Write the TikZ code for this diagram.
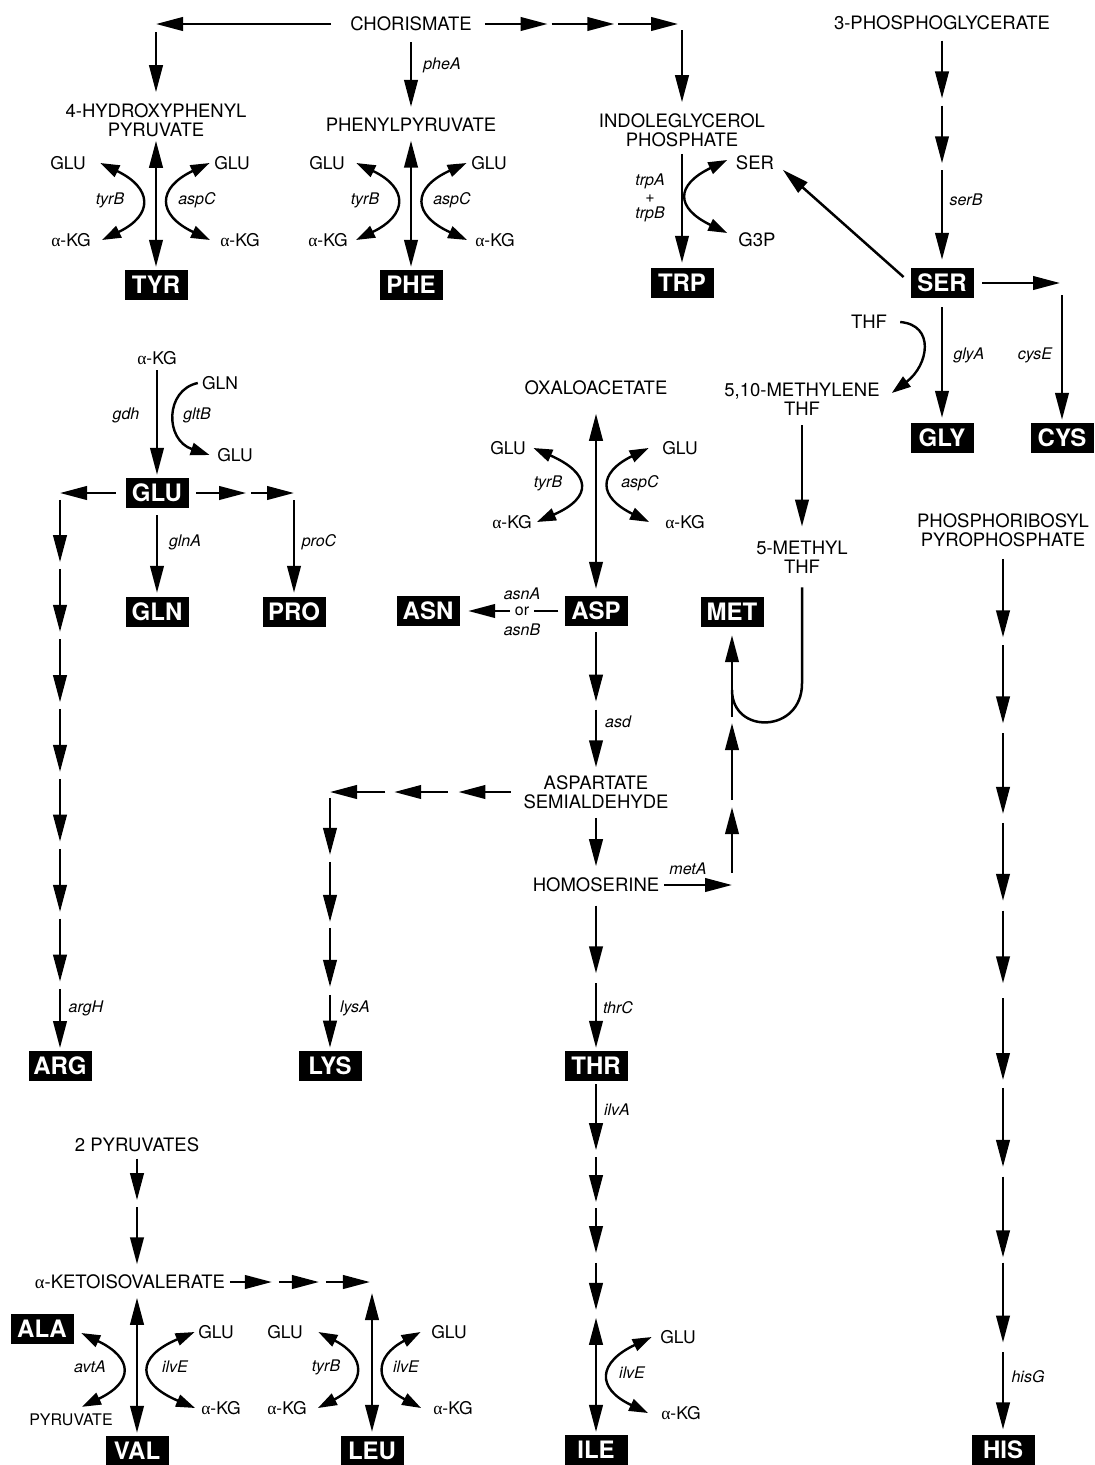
\documentclass[tikz,border=0pt]{standalone}
\usepackage{fontspec}
\setmainfont{TeX Gyre Heros}
\newfontfamily\grk{Liberation Serif}
\usetikzlibrary{arrows.meta,calc}
\newcommand\akg{{\grk α}-KG}
\tikzset{
  metab/.style={font=\fontsize{18.5}{19}\selectfont, inner sep=1pt, align=center},
  cof/.style={font=\fontsize{17.5}{18}\selectfont, inner sep=1pt},
  gene/.style={font=\fontsize{16}{16.5}\selectfont\itshape, inner sep=1pt, align=center},
  aa/.style={fill=black, text=white, font=\fontsize{24}{24}\selectfont\bfseries, minimum width=63pt, minimum height=30pt, inner sep=0pt},
  arr/.style={line width=2.5pt, -{Triangle[length=27pt,width=13.5pt]}},
  darr/.style={line width=2.5pt, {Triangle[length=27pt,width=13.5pt]}-{Triangle[length=27pt,width=13.5pt]}},
  carr/.style={line width=2.4pt, {Triangle[length=19pt,width=12.5pt]}-{Triangle[length=19pt,width=12.5pt]}},
  carrone/.style={line width=2.4pt, -{Triangle[length=19pt,width=12.5pt]}},
  plainline/.style={line width=2.5pt},
}
\newcommand\mychain[3]{\foreach \pa/\pb in {#3}{\draw[arr] ($(#1)!\pa!(#2)$) -- ($(#1)!\pb!(#2)$);}}
\newcommand\myarc[3]{\draw[carr] #1 .. controls +(#3,25) and +(#3,-25) .. #2;}
\begin{document}
\begin{tikzpicture}[x=1pt,y=-1pt]
\fill[white] (0,0) rectangle (1095,1465);
\useasboundingbox (0,0) rectangle (1095,1465);

% ---------- aromatic ----------
\node[metab] (chor) at (411,24) {CHORISMATE};
\node[metab] (hpp) at (156,120) {4-HYDROXYPHENYL\\PYRUVATE};
\node[aa] (tyr) at (156,285) {TYR};
\node[metab] (phepyr) at (411,125) {PHENYLPYRUVATE};
\node[aa] (phe) at (411,285) {PHE};
\node[metab] (igp) at (682,130) {INDOLEGLYCEROL\\PHOSPHATE};
\node[aa] (trp) at (682,283) {TRP};
\node[metab] (ser2) at (755,163) {SER};
\node[metab] (g3p) at (757,240) {G3P};

\node[cof] (g1) at (68,163) {GLU};
\node[cof] (k1) at (71,240) {\akg};
\node[cof] (g2) at (232,163) {GLU};
\node[cof] (k2) at (240,240) {\akg};
\node[cof] (g3) at (327,163) {GLU};
\node[cof] (k3) at (328,240) {\akg};
\node[cof] (g4) at (489,163) {GLU};
\node[cof] (k4) at (495,240) {\akg};

\node[gene] (l1) at (110,200) {tyrB};
\node[gene] (l2) at (197,200) {aspC};
\node[gene] (l3) at (365,200) {tyrB};
\node[gene] (l4) at (452,200) {aspC};
\node[gene] (l5) at (442,65) {pheA};
\node[gene] (l6) at (650,198) {trpA\\{\upshape +}\\trpB};

\coordinate (cL) at (156,24);
\draw[arr, shorten <=18pt] (chor.west) -- (cL);
\draw[arr, shorten <=8pt, shorten >=10pt] (cL) -- (hpp.north);
\draw[darr, shorten <=3pt, shorten >=3pt] (hpp) -- (tyr);
\draw[arr, shorten <=10pt, shorten >=10pt] (chor) -- (phepyr);
\draw[darr, shorten <=7.5pt, shorten >=3pt] (phepyr) -- (phe);
\coordinate (cR) at (682,24);
\mychain{chor.east}{cR}{0.057/0.357,0.376/0.676,0.695/0.981}
\draw[arr, shorten <=6pt, shorten >=10pt] (cR) -- (igp.north);
\draw[arr, shorten <=6pt, shorten >=5pt] (igp) -- (trp);

\myarc{([xshift=13.5pt]g1.east)}{([xshift=10pt]k1.east)}{52}
\myarc{([xshift=-3.5pt]g2.west)}{([xshift=-9pt]k2.west)}{-53}
\myarc{([xshift=10.5pt]g3.east)}{([xshift=7pt]k3.east)}{52}
\myarc{([xshift=-3.5pt]g4.west)}{([xshift=-7pt]k4.west)}{-55}
\myarc{([xshift=-7.5pt,yshift=3pt]ser2.west)}{([xshift=-10pt,yshift=7pt]g3p.west)}{-52}

% ---------- serine family ----------
\node[metab] (pga) at (942,23) {3-PHOSPHOGLYCERATE};
\node[aa] (ser) at (942,283) {SER};
\node[aa] (gly) at (942,438) {GLY};
\node[aa] (cys) at (1062,438) {CYS};
\node[metab] (thf) at (869,322) {THF};
\node[metab] (mlthf) at (802,399) {5,10-METHYLENE\\THF};
\node[metab] (mthf) at (802,557) {5-METHYL\\THF};
\node[gene] (l7) at (966,200) {serB};
\node[gene] (l8) at (969,355) {glyA};
\node[gene] (l9) at (1035,355) {cysE};

\mychain{pga.south}{ser.north}{0.04/0.284,0.314/0.558,0.587/0.966}
\draw[arr, shorten <=9pt, shorten >=10pt] (ser.west) -- (ser2.east);
\coordinate (cC) at (1062,283);
\draw[arr, shorten <=8.5pt, shorten >=2pt] (ser.east) -- (cC);
\draw[arr, shorten <=12pt, shorten >=3pt] (cC) -- (cys.north);
\draw[arr, shorten <=9pt, shorten >=5pt] (ser) -- (gly);
\draw[carrone] ([xshift=12pt]thf.east) .. controls +(35,3) and +(37,-28) .. ([xshift=11pt,yshift=6pt]mlthf.east);
\draw[arr, shorten <=9pt, shorten >=13pt] (mlthf) -- (mthf);

% ---------- glutamate family ----------
\node[cof] (akg0) at (157,358) {\akg};
\node[cof] (glnT) at (220,383) {GLN};
\node[cof] (gluT) at (235,455) {GLU};
\node[aa] (glu) at (157,493) {GLU};
\node[aa] (gln) at (157,612) {GLN};
\node[aa] (pro) at (294,612) {PRO};
\node[aa] (arg) at (60,1066) {ARG};
\node[gene] (l10) at (126,415) {gdh};
\node[gene] (l11) at (197,415) {gltB};
\node[gene] (l12) at (185,542) {glnA};
\node[gene] (l13) at (319,542) {proC};
\node[gene] (l14) at (86,1008) {argH};

\draw[arr, shorten <=4.5pt, shorten >=3pt] (akg0) -- (glu);
\draw[carrone] ([xshift=-3pt]glnT.west) .. controls +(-33,7) and +(-45,-15) .. ([xshift=-6.5pt]gluT.west);
\draw[arr, shorten <=7pt, shorten >=4pt] (glu) -- (gln);
\coordinate (cA) at (60,493);
\draw[arr, shorten <=9.5pt] (glu.west) -- (cA);
\mychain{cA}{arg.north}{0.0125/0.124,0.136/0.249,0.262/0.375,0.387/0.5,0.5125/0.625,0.638/0.751,0.763/0.876,0.889/0.995}
\coordinate (cP) at (294,493);
\mychain{glu.east}{cP}{0.071/0.545,0.592/1}
\draw[arr, shorten <=7pt, shorten >=4pt] (cP) -- (pro.north);

% ---------- aspartate family ----------
\node[metab] (oaa) at (596,388) {OXALOACETATE};
\node[aa] (asp) at (596,611) {ASP};
\node[aa] (asn) at (428,611) {ASN};
\node[aa] (met) at (732,612) {MET};
\node[metab] (asa) at (596,792) {ASPARTATE\\SEMIALDEHYDE};
\node[metab] (hser) at (596,885) {HOMOSERINE};
\node[aa] (lys) at (330,1066) {LYS};
\node[aa] (thr) at (596,1066) {THR};
\node[aa] (ile) at (596,1450) {ILE};
\node[cof] (g5) at (508,448) {GLU};
\node[cof] (k5) at (512,522) {\akg};
\node[cof] (g6) at (680,448) {GLU};
\node[cof] (k6) at (685,522) {\akg};
\node[cof] (g10) at (678,1337) {GLU};
\node[cof] (k10) at (681,1413) {\akg};
\node[gene] (l15) at (548,483) {tyrB};
\node[gene] (l16) at (640,483) {aspC};
\node[gene] (l17) at (522,594) {asnA};
\node[gene] (l19) at (522,630) {asnB};
\node[gene] (l20) at (618,722) {asd};
\node[gene] (l21) at (688,869) {metA};
\node[gene] (l22) at (355,1008) {lysA};
\node[gene] (l23) at (618,1008) {thrC};
\node[gene] (l24) at (617,1110) {ilvA};
\node[gene] (l25) at (632,1373) {ilvE};

\draw[darr, shorten <=17.5pt, shorten >=7pt] (oaa) -- (asp);
\myarc{([xshift=6.5pt]g5.east)}{([xshift=4pt]k5.east)}{57}
\myarc{([xshift=-12.5pt]g6.west)}{([xshift=-15pt]k6.west)}{-51}
\draw[arr, shorten <=6pt, shorten >=8.5pt] (asp.west) -- (asn.east);
\node[gene, font=\fontsize{16}{16.5}\selectfont\upshape, fill=white, inner xsep=5pt, inner ysep=1pt] (l18) at (522,611) {or};
\mychain{asp.south}{asa.north}{0.040/0.510,0.564/0.953}
\draw[arr, shorten <=8pt, shorten >=10.5pt] (asa) -- (hser);
\mychain{hser.south}{thr.north}{0.079/0.508,0.571/0.981}
\mychain{thr.south}{ile.north}{0.008/0.195,0.215/0.342,0.359/0.486,0.514/0.647}
\draw[darr] ($(thr.south)!0.669!(ile.north)$) -- ($(thr.south)!0.992!(ile.north)$);
\myarc{([xshift=-7.5pt]g10.west)}{([xshift=-12pt]k10.west)}{-53}

\coordinate (cK) at (330,792);
\mychain{asa.west}{cK}{0.059/0.332,0.388/0.666,0.712/1}
\mychain{cK}{lys.north}{0.023/0.243,0.270/0.502,0.525/0.753,0.784/0.988}

\coordinate (cM) at (732,885);
\draw[arr, shorten <=4pt] (hser.east) -- (cM);
\mychain{cM}{met.south}{0.047/0.302,0.329/0.628,0.651/0.969}
\coordinate (mj) at (732,690);
\draw[plainline] ([yshift=-13pt]mthf.south) -- ([yshift=-109pt]mthf.south) .. controls +(0,50) and +(0,45) .. (mj);

% ---------- histidine ----------
\node[metab] (prpp) at (1003,530) {PHOSPHORIBOSYL\\PYROPHOSPHATE};
\node[aa] (his) at (1003,1450) {HIS};
\node[gene] (l26) at (1028,1377) {hisG};
\mychain{prpp.south}{his.north}{0.0124/0.101,0.110/0.198,0.209/0.300,0.310/0.398,0.409/0.491,0.508/0.600,0.609/0.698,0.709/0.800,0.806/0.896,0.907/0.994}

% ---------- pyruvate family ----------
\node[metab] (pyr2) at (137,1145) {2 PYRUVATES};
\node[metab] (kiv) at (130,1282) {{\grk α}-KETOISOVALERATE};
\node[aa] (ala) at (42,1329) {ALA};
\node[metab, font=\fontsize{16}{17}\selectfont] (pyrv) at (71,1420) {PYRUVATE};
\node[aa] (val) at (137,1451) {VAL};
\node[aa] (leu) at (372,1451) {LEU};
\node[cof] (g7) at (216,1332) {GLU};
\node[cof] (k7) at (221,1408) {\akg};
\node[cof] (g8) at (285,1332) {GLU};
\node[cof] (k8) at (287,1408) {\akg};
\node[cof] (g9) at (449,1332) {GLU};
\node[cof] (k9) at (453,1408) {\akg};
\node[gene] (l27) at (90,1367) {avtA};
\node[gene] (l28) at (175,1367) {ilvE};
\node[gene] (l29) at (326,1367) {tyrB};
\node[gene] (l30) at (406,1367) {ilvE};

\coordinate (kivTop) at (pyr2.south |- kiv.north);
\mychain{pyr2.south}{kivTop}{0.045/0.389,0.447/0.922}
\coordinate (kivBot) at (val.north |- kiv.south);
\draw[darr, shorten <=7.5pt, shorten >=3pt] (kivBot) -- (val.north);
\coordinate (cL2) at (372,1282);
\mychain{kiv.east}{cL2}{0.024/0.313,0.361/0.636,0.684/0.986}
\draw[darr, shorten <=11pt, shorten >=4pt] (cL2) -- (leu.north);
\myarc{([xshift=7.5pt,yshift=-4pt]ala.east)}{([xshift=11pt,yshift=6pt]pyrv.north)}{52}
\myarc{([xshift=-2.5pt]g7.west)}{([xshift=-5pt]k7.west)}{-59}
\myarc{([xshift=14.5pt]g8.east)}{([xshift=10pt]k8.east)}{48}
\myarc{([xshift=-9.5pt]g9.west)}{([xshift=-11pt]k9.west)}{-47}
\end{tikzpicture}
\end{document}
